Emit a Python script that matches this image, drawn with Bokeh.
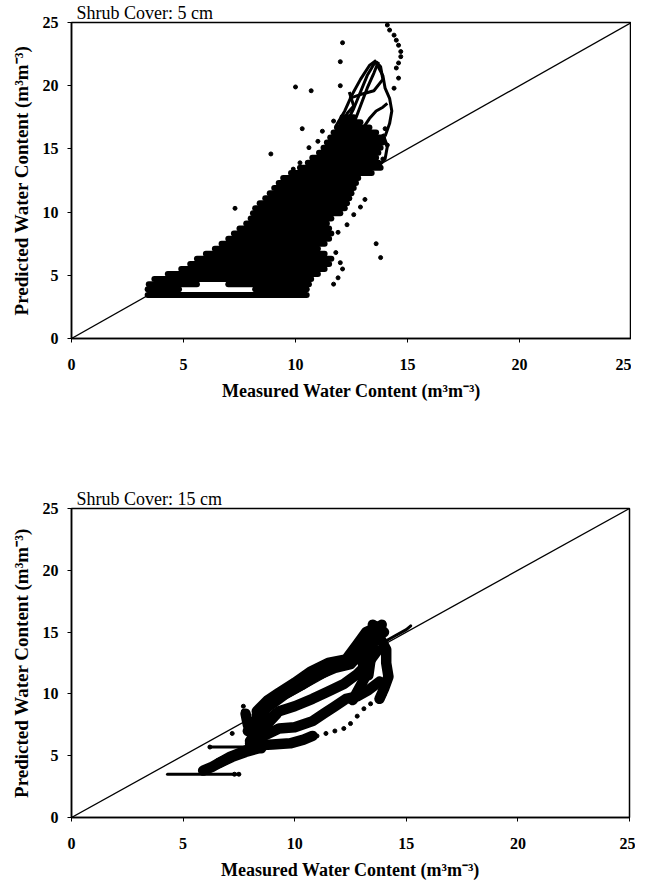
from bokeh.embed import file_html
from bokeh.layouts import column
from bokeh.models import ColumnDataSource
from bokeh.plotting import figure
from bokeh.resources import INLINE

ticks = [0, 5, 10, 15, 20, 25]
one_to_one = [0, 25]

rows5_y = [3.45, 3.9, 3.9, 4.3, 4.3, 4.7,
           5.1, 5.5, 5.9, 6.3, 6.7, 7.1, 7.5, 7.9, 8.3, 8.7, 9.1, 9.5, 9.9, 10.3,
           10.7, 11.1, 11.5, 11.9, 12.3, 12.7, 13.1, 13.5, 13.9, 14.3, 14.7, 15.1,
           15.5, 15.9, 16.3, 16.7, 17.1, 17.5]
rows5_left = [3.4, 3.4, 8.2, 3.45, 7.0, 3.7,
              4.3, 4.9, 5.3, 5.6, 6.0, 6.4, 6.7, 7.0, 7.25, 7.5, 7.8, 8.0, 8.1, 8.2,
              8.4, 8.65, 8.85, 9.05, 9.25, 9.45, 9.8, 10.2, 10.55, 10.75, 11.05, 11.25,
              11.4, 11.55, 11.7, 11.85, 12.0, 12.1]
rows5_right = [10.5, 4.8, 10.5, 5.6, 10.6, 10.7,
               11.0, 11.3, 11.5, 11.6, 11.3, 11.0, 11.3, 11.5, 11.6, 11.5, 11.4, 11.6, 12.0, 12.2,
               12.3, 12.4, 12.5, 12.6, 12.7, 12.8, 13.4, 13.8, 13.7, 13.6, 13.7, 13.8,
               13.9, 13.9, 13.6, 13.3, 12.9, 12.6]

# loops in the upper part of the 5 cm cloud
loops5_xs = [
    [11.8, 12.2, 12.5, 12.9, 13.3, 13.6],
    [12.2, 12.6, 12.9, 13.2, 13.6],
    [12.6, 12.9, 13.2, 13.5, 13.7],
    [12.4, 12.9, 13.5, 13.9, 13.8, 13.6],
    [13.6, 13.9, 14.0, 14.2, 14.3, 14.2, 14.0],
    [13.0, 13.3, 13.6, 13.9, 14.1],
    [12.1, 12.3, 12.6, 12.4],
    [13.9, 14.1, 14.0, 13.7],
]
loops5_ys = [
    [16.8, 18.0, 19.2, 20.5, 21.6, 22.0],
    [16.8, 18.2, 19.5, 20.8, 22.0],
    [17.0, 18.4, 19.8, 21.0, 21.9],
    [19.0, 19.3, 19.6, 20.5, 21.5, 21.9],
    [21.8, 20.8, 19.8, 19.0, 18.0, 17.0, 16.0],
    [16.6, 17.4, 18.0, 18.3, 18.6],
    [17.0, 17.8, 18.4, 19.5],
    [16.2, 15.2, 14.2, 13.6],
]

dots5_x = [14.1, 14.2, 14.4, 14.5, 14.6, 14.7, 14.7, 14.6, 14.5, 14.6, 14.4,
           10.0, 10.7, 10.3, 8.9, 7.3, 12.1, 12.0, 12.0, 11.7, 10.6, 13.6, 13.8,
           11.8, 12.0, 12.1, 11.9, 11.7, 10.2, 9.9, 11.0, 11.2,
           12.9, 13.1, 13.9, 14.1, 14.0, 12.3, 12.6, 11.9]
dots5_y = [24.8, 24.4, 24.0, 23.6, 23.2, 22.7, 22.3, 21.8, 21.4, 20.6, 19.8,
           19.9, 19.6, 16.6, 14.6, 10.3, 23.4, 21.9, 20.0, 17.2, 15.1, 7.5, 6.4,
           6.8, 6.0, 5.5, 4.8, 4.3, 13.9, 13.4, 15.6, 16.4,
           10.4, 11.0, 14.2, 15.3, 16.6, 9.0, 9.8, 8.4]

# --- Shrub cover 15 cm: bands of the cloud
bands15_xs = [
    [8.3, 8.8, 9.3, 10.0, 10.7, 11.5, 12.3, 12.8, 13.2, 13.7, 14.0],
    [8.3, 9.0, 9.6, 10.3, 11.0, 11.8, 12.5, 13.0],
    [8.2, 8.8, 9.3, 10.0, 10.8, 11.5, 12.2, 12.8, 13.3, 13.7],
    [13.5, 13.8, 14.1, 14.1, 14.2, 14.0, 13.8],
    [13.3, 13.4, 13.5, 13.6],
    [8.0, 8.6, 9.3, 10.0, 10.8, 11.3, 11.8, 12.3, 12.8, 13.3, 13.8],
    [7.8, 7.9, 8.1, 8.3, 8.5],
    [8.0, 9.0, 9.8, 10.4, 10.8],
    [5.9, 6.3, 6.7, 7.1, 7.5, 7.9, 8.3],
    [12.6, 12.9, 13.2, 13.0],
    [12.9, 13.2, 13.6, 13.9],
    [8.0, 8.4, 8.8, 9.2],
    [7.9, 8.3, 8.7],
    [6.6, 7.2, 7.8, 8.4],
]
bands15_ys = [
    [8.6, 9.5, 10.1, 10.9, 11.8, 12.5, 12.8, 14.0, 15.0, 15.4, 15.0],
    [8.3, 9.2, 10.0, 10.7, 11.5, 12.1, 12.4, 13.4],
    [7.3, 7.9, 8.6, 9.0, 9.6, 10.2, 10.8, 11.6, 12.5, 13.5],
    [15.6, 14.6, 13.6, 12.5, 11.4, 10.4, 9.6],
    [11.5, 12.8, 14.0, 15.5],
    [6.2, 6.6, 7.2, 7.3, 7.8, 8.4, 9.0, 9.6, 9.8, 10.3, 11.0],
    [8.4, 7.5, 6.6, 6.0, 5.6],
    [5.8, 5.9, 6.0, 6.3, 6.6],
    [3.8, 4.1, 4.5, 4.9, 5.2, 5.5, 5.8],
    [9.5, 10.5, 11.5, 12.8],
    [13.0, 13.8, 14.6, 15.6],
    [6.0, 6.8, 7.6, 8.4],
    [7.0, 8.0, 8.8],
    [4.4, 4.9, 5.3, 5.6],
]

# thin streaks of the 15 cm cloud
streaks15_xs = [[4.3, 7.5], [6.2, 8.3], [14.0, 14.5, 15.0, 15.2]]
streaks15_ys = [[3.5, 3.5], [5.7, 5.7], [14.2, 14.7, 15.2, 15.5]]

dots15_x = [10.6, 11.0, 11.4, 11.8, 12.2, 12.5, 12.8, 13.1, 13.4, 13.7, 14.0,
            7.7, 7.7, 7.2, 6.2, 7.5, 7.3]
dots15_y = [6.4, 6.6, 6.8, 7.0, 7.2, 7.6, 8.2, 8.8, 9.2, 9.6, 9.9,
            9.0, 8.6, 6.8, 5.7, 3.5, 3.5]

SERIF = "Liberation Serif"


def make_panel(title, frame_width, frame_height, border_left, border_top):
    p = figure(
        title=title,
        frame_width=frame_width,
        frame_height=frame_height,
        x_range=(0, 25),
        y_range=(0, 25),
        x_axis_label="Measured Water Content (m³m⁻³)",
        y_axis_label="Predicted Water Content (m³m⁻³)",
        min_border_left=border_left,
        min_border_right=6,
        min_border_top=border_top,
        min_border_bottom=60,
        output_backend="svg",
        toolbar_location=None,
    )
    p.title.align = "left"
    p.title.offset = 5
    p.title.standoff = 0
    p.title.text_font = SERIF
    p.title.text_font_style = "normal"
    p.title.text_font_size = "18px"
    p.title.text_color = "black"
    p.grid.visible = False
    p.outline_line_color = "black"
    p.outline_line_width = 1.5
    for ax in (p.xaxis[0], p.yaxis[0]):
        ax.ticker = ticks
        ax.minor_tick_line_color = None
        ax.major_tick_in = 0
        ax.major_tick_out = 4
        ax.axis_line_width = 1.5
        ax.axis_line_color = "black"
        ax.major_tick_line_color = "black"
        ax.major_label_text_font = SERIF
        ax.major_label_text_font_style = "bold"
        ax.major_label_text_font_size = "16px"
        ax.major_label_text_color = "black"
        ax.axis_label_text_font = SERIF
        ax.axis_label_text_font_style = "bold"
        ax.axis_label_text_font_size = "18px"
        ax.axis_label_text_color = "black"
    p.yaxis.axis_label_text_font_size = "19px"
    p.xaxis.major_label_standoff = 16
    p.xaxis.axis_label_standoff = 8
    p.yaxis.major_label_standoff = 9
    p.yaxis.axis_label_standoff = 8
    p.line(one_to_one, one_to_one, line_color="black", line_width=1.3)
    return p


p1 = make_panel("Shrub Cover: 5 cm", 560, 316, 65, 0)
p1.segment(x0="left", y0="y", x1="right", y1="y", line_color="black",
           line_width=6, line_cap="round",
           source=ColumnDataSource(data={"y": rows5_y, "left": rows5_left,
                                         "right": rows5_right}))
p1.multi_line(xs=loops5_xs, ys=loops5_ys, line_color="black", line_width=3,
              line_join="round")
p1.scatter(dots5_x, dots5_y, size=4, color="black")

p2 = make_panel("Shrub Cover: 15 cm", 558, 309, 71, 105)
p2.multi_line(xs=bands15_xs, ys=bands15_ys, line_color="black", line_width=10.5,
              line_join="round", line_cap="round")
p2.multi_line(xs=streaks15_xs, ys=streaks15_ys, line_color="black", line_width=3,
              line_cap="round")
p2.scatter(dots15_x, dots15_y, size=4, color="black")

layout = column(p1, p2, spacing=0)
open("out.html", "w").write(file_html(layout, INLINE))
